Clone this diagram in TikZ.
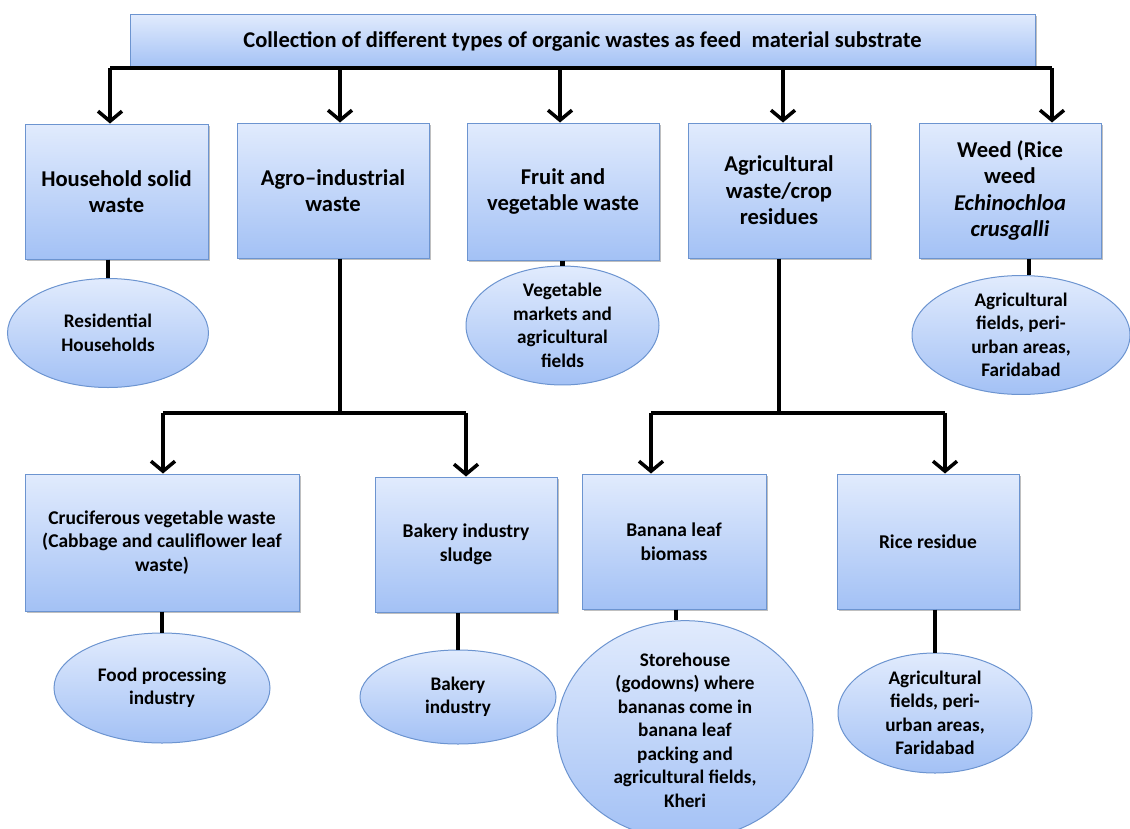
\documentclass[tikz,border=0pt]{standalone}
\usepackage{fontspec}
\setmainfont{Carlito}
\usetikzlibrary{shapes.geometric,arrows.meta,shadows}

\definecolor{gtop}{RGB}{225,235,253}
\definecolor{gbot}{RGB}{163,193,245}
\definecolor{edgeblue}{RGB}{108,148,208}

\tikzset{
  tinted/.style={draw=edgeblue, line width=1pt, top color=gtop, bottom color=gbot,
    align=center, inner sep=0pt},
  box/.style={tinted, rectangle,
    drop shadow={shadow xshift=1.5pt, shadow yshift=-1.5pt, fill=black, opacity=0.25}},
  bigbox/.style={box, font=\bfseries\fontsize{22.6}{26.5}\selectfont},
  smallbox/.style={box, font=\bfseries\fontsize{19.5}{23.5}\selectfont},
  oval/.style={tinted, ellipse, font=\bfseries\fontsize{19.2}{23.5}\selectfont},
  link/.style={line width=4.5pt},
  arr/.style={line width=4.5pt, -{Straight Barb[length=10pt,width=24pt,line width=3.5pt]}},
}

\begin{document}
\begin{tikzpicture}[x=1pt, y=-1pt]
\useasboundingbox (0,0) rectangle (1130,828);

% header
\node[box, minimum width=905pt, minimum height=54pt,
      font=\bfseries\fontsize{22.5}{26}\selectfont] (top) at (582.5,41)
  {Collection of different types of organic wastes as feed~ material substrate};

% first level
\node[bigbox, minimum width=183pt, minimum height=135pt] (hsw)  at (116.5,191.5) {Household solid\\waste};
\node[bigbox, minimum width=192pt, minimum height=135pt] (agro) at (333,190.5) {Agro–industrial\\waste};
\node[bigbox, minimum width=192pt, minimum height=137pt] (fvw)  at (563,191.5) {Fruit and\\vegetable waste};
\node[bigbox, minimum width=182pt, minimum height=135pt] (agr)  at (779,190.5) {Agricultural\\waste/crop\\residues};
\node[bigbox, minimum width=182pt, minimum height=135pt] (weed) at (1010,190.5) {Weed (Rice\\weed\\\textit{Echinochloa}\\\textit{crusgalli}};

% sources of the first level
\node[oval, minimum width=201pt, minimum height=109pt] (res) at (108,333) {Residential\\Households};
\node[oval, minimum width=193pt, minimum height=99pt]  (vm)  at (562.5,325.5) {Vegetable\\markets and\\agricultural\\fields};
\node[oval, minimum width=218pt, minimum height=110pt] (wf)  at (1021,335) {Agricultural\\fields, peri-\\urban areas,\\Faridabad};

% second level
\node[smallbox, minimum width=274pt, minimum height=137pt] (cru)  at (162,542.5) {Cruciferous vegetable waste\\(Cabbage and cauliflower leaf\\waste)};
\node[smallbox, minimum width=182pt, minimum height=135pt] (bak)  at (466,544.5) {Bakery industry\\sludge};
\node[smallbox, minimum width=184pt, minimum height=135pt] (ban)  at (674,541.5) {Banana leaf\\biomass};
\node[smallbox, minimum width=182pt, minimum height=135pt] (rice) at (928,541.5) {Rice residue};

% sources of the second level
\node[oval, minimum width=216pt, minimum height=110pt] (fp) at (162,688) {Food processing\\industry};
\node[oval, minimum width=196pt, minimum height=94pt]  (bi) at (458,697) {Bakery\\industry};
\node[oval, minimum width=256pt, minimum height=196pt] (sh) at (685,730) {Storehouse\\(godowns) where\\bananas come in\\banana leaf\\packing and\\agricultural fields,\\Kheri};
\node[oval, minimum width=194pt, minimum height=120pt] (rr) at (935,713) {Agricultural\\fields, peri-\\urban areas,\\Faridabad};

% distribution bar under the header
\coordinate (t1) at (110,68);
\coordinate (t2) at (340,68);
\coordinate (t3) at (560,68);
\coordinate (t4) at (783,68);
\coordinate (t5) at (1052,68);
\draw[link] (t1) -- (t5);
\draw[arr] (t1) -- (t1 |- hsw.north);
\draw[arr] (t2) -- (t2 |- agro.north);
\draw[arr] (t3) -- (t3 |- fvw.north);
\draw[arr] (t4) -- (t4 |- agr.north);
\draw[arr] (t5) -- (t5 |- weed.north);

% agro-industrial branch
\coordinate (a0) at (340,413);
\coordinate (a1) at (163,413);
\coordinate (a2) at (466,413);
\draw[link] (a0 |- agro.south) -- (a0);
\draw[link] (a1) -- (a2);
\draw[arr] (a1) -- (a1 |- cru.north);
\draw[arr] (a2) -- (a2 |- bak.north);

% agricultural branch
\coordinate (g0) at (779,413);
\coordinate (g1) at (651,413);
\coordinate (g2) at (945,413);
\draw[link] (g0 |- agr.south) -- (g0);
\draw[link] (g1) -- (g2);
\draw[arr] (g1) -- (g1 |- ban.north);
\draw[arr] (g2) -- (g2 |- rice.north);

% boxes to their sources
\coordinate (wx) at (1029,0);
\coordinate (bx) at (676,0);
\draw[link] (res.north |- hsw.south) -- (res.north);
\draw[link] (vm.north |- fvw.south) -- (vm.north);
\draw[link] (wx |- weed.south) -- (wx |- wf.north);
\draw[link] (fp.north |- cru.south) -- (fp.north);
\draw[link] (bi.north |- bak.south) -- (bi.north);
\draw[link] (bx |- ban.south) -- (bx |- sh.north);
\draw[link] (rr.north |- rice.south) -- (rr.north);
\end{tikzpicture}
\end{document}
